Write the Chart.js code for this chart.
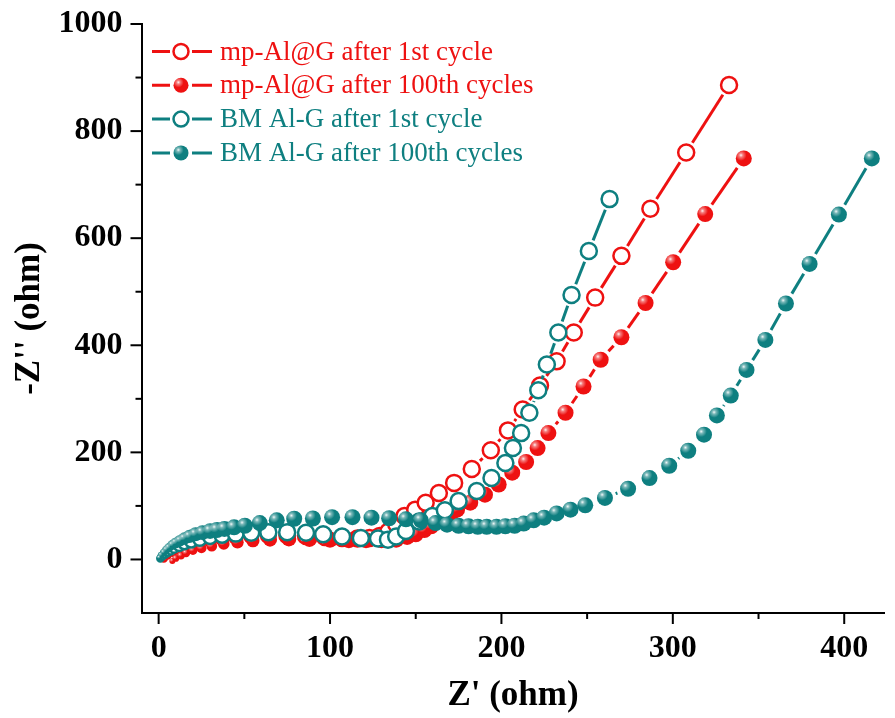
<!DOCTYPE html>
<html lang="en">
<head>
    <meta charset="UTF-8">
    <title>Nyquist plot - mp-Al@G vs BM Al-G</title>
    <script src="https://cdn.jsdelivr.net/npm/chart.js"></script>
    <style>
        html, body { margin: 0; padding: 0; background: #fff; }
        #wrap { width: 895px; height: 718px; }
    </style>
</head>
<body>
<div id="wrap"><canvas id="nyquist" width="895" height="718"></canvas></div>
<script>
    // series labels
    const seriesNames = [
        'mp-Al@G after 1st cycle',
        'mp-Al@G after 100th cycles',
        'BM Al-G after 1st cycle',
        'BM Al-G after 100th cycles'
    ];

    // mp-Al@G after 1st cycle (open red)
    const mp1X = [3, 5, 8, 11, 15, 19, 24, 30, 37, 45, 54, 64, 75, 86, 97, 107, 116, 123, 129, 134, 138.6, 143.4, 149.7, 155.8, 163.5, 172.4, 182.7, 193.8, 203.8, 212.4, 222.5, 232.2, 242.2, 254.7, 270, 286.9, 307.8, 332.8];
    const mp1Y = [2, 8, 14, 19, 24, 28, 32, 36, 39, 42, 44, 45, 45, 44, 42, 40, 39, 40, 44, 52, 66, 81, 93, 106, 124, 143, 169, 204, 241, 280, 325, 370, 424, 489, 567, 655, 760, 886];

    // mp-Al@G after 100th cycles (filled red)
    const mp100X = [8, 10, 13, 16, 20, 25, 31, 38, 46, 55, 65, 76, 88, 100, 111, 121, 130, 138.6, 145, 150, 155, 159, 164.5, 170.2, 174.1, 181.8, 190.4, 198.4, 206.3, 214.4, 221.1, 227.4, 237.4, 247.9, 257.9, 270, 284.1, 300.2, 318.9, 341.4];
    const mp100Y = [-3, 2, 7, 12, 17, 21, 25, 29, 32, 35, 37, 38, 38, 37, 36, 36, 36, 37, 42, 47, 55, 62, 75, 84, 93, 106, 121, 140, 162, 182, 208, 236, 274, 323, 373, 415, 479, 555, 645, 749];

    // BM Al-G after 1st cycle (open teal)
    const bm1X = [1, 2, 3.5, 5, 7, 9, 12, 15, 19, 24, 30, 37, 45, 54, 64, 75, 86, 96, 107, 118, 128, 133.8, 138.6, 144.3, 152, 159.7, 167, 175, 185.6, 194.2, 202.3, 206.7, 211.5, 216.3, 221.5, 226.5, 233.2, 240.9, 251, 263.1];
    const bm1Y = [2, 6, 10, 14, 18, 22, 26, 30, 34, 38, 42, 45, 48, 50, 51, 51, 50, 47, 43, 40, 39, 37, 43, 53, 71, 81, 92, 109, 128, 152, 180, 208, 236, 274, 316, 364, 424, 494, 576, 673];

    // BM Al-G after 100th cycles (filled teal)
    const bm100X = [0.5, 1.5, 3, 4.5, 6, 8, 10, 12.5, 15, 18, 21.5, 25.5, 30, 34, 38.4, 44, 50.3, 59, 68.9, 79.1, 90, 101.2, 113.1, 124.2, 134.5, 144.3, 153, 161.6, 168.3, 175, 180.8, 186.2, 191.4, 197.1, 202.3, 207.7, 213, 218.8, 224.9, 232.2, 240.3, 248.9, 260.4, 273.9, 286.4, 297.9, 309, 318.2, 325.7, 333.8, 343, 354, 366, 379.8, 396.9, 416.1];
    const bm100Y = [3, 8, 13, 18, 22, 27, 31, 35, 39, 43, 47, 50, 53, 55, 57, 60, 63, 68, 73, 76, 76.5, 79, 79, 78, 77, 75, 73, 68, 65, 63, 62, 61, 61, 61, 62, 63, 67, 73, 78, 86, 93, 101, 115, 132, 152, 175, 203, 233, 269, 306, 354, 410, 478, 552, 644, 749];

    // axis ticks
    const xMajorTicks = [0, 100, 200, 300, 400];
    const xMinorTicks = [50, 150, 250, 350];
    const yMajorTicks = [0, 200, 400, 600, 800, 1000];
    const yMinorTicks = [100, 300, 500, 700, 900];

    const RED = '#ee1111';
    const TEAL = '#0e7f80';
    const FONT = "'Liberation Serif', 'Times New Roman', serif";
    const LINE_GAP = 3.5; // space left between a connecting line and a marker

    function toPoints(xs, ys) {
        return xs.map((x, i) => ({ x: x, y: ys[i] }));
    }

    // markers are small near the origin and grow along the curve
    function markerRadius(ctx) {
        return Math.min(8, 3 + ctx.dataIndex * 0.4);
    }

    function shadeSphere(ctx, x, y, r) {
        const g = ctx.createRadialGradient(x - r * 0.35, y - r * 0.4, 0, x - r * 0.35, y - r * 0.4, r * 0.7);
        g.addColorStop(0, 'rgba(255,255,255,0.95)');
        g.addColorStop(0.35, 'rgba(255,255,255,0.45)');
        g.addColorStop(1, 'rgba(255,255,255,0)');
        ctx.fillStyle = g;
        ctx.beginPath();
        ctx.arc(x, y, r, 0, Math.PI * 2);
        ctx.fill();
    }

    function drawMarker(ctx, x, y, r, color, filled) {
        ctx.beginPath();
        ctx.arc(x, y, r, 0, Math.PI * 2);
        if (filled) {
            ctx.fillStyle = color;
            ctx.fill();
            shadeSphere(ctx, x, y, r);
        } else {
            ctx.fillStyle = '#fff';
            ctx.fill();
            ctx.lineWidth = 2.5;
            ctx.strokeStyle = color;
            ctx.stroke();
        }
    }

    // connecting lines with a small gap at each marker (Origin "line + symbol" look)
    // and a glossy highlight on the filled markers
    const linkPlugin = {
        id: 'gappedLines',
        beforeDatasetDraw(chart, args) {
            const ds = chart.data.datasets[args.index];
            const pts = args.meta.data;
            const ctx = chart.ctx;
            ctx.save();
            ctx.strokeStyle = ds.borderColor;
            ctx.lineWidth = 3;
            for (let i = 1; i < pts.length; i++) {
                const a = pts[i - 1], b = pts[i];
                const dx = b.x - a.x, dy = b.y - a.y;
                const d = Math.hypot(dx, dy);
                const ga = a.options.radius + LINE_GAP;
                const gb = b.options.radius + LINE_GAP;
                if (d <= ga + gb + 1) continue;
                const ux = dx / d, uy = dy / d;
                ctx.beginPath();
                ctx.moveTo(a.x + ux * ga, a.y + uy * ga);
                ctx.lineTo(b.x - ux * gb, b.y - uy * gb);
                ctx.stroke();
            }
            ctx.restore();
        },
        afterDatasetDraw(chart, args) {
            const ds = chart.data.datasets[args.index];
            if (!ds.sphere) return;
            const ctx = chart.ctx;
            ctx.save();
            args.meta.data.forEach(pt => shadeSphere(ctx, pt.x, pt.y, pt.options.radius));
            ctx.restore();
        }
    };

    // outward tick marks, major longer than minor
    const tickPlugin = {
        id: 'tickMarks',
        afterDraw(chart) {
            const { ctx, chartArea, scales: { x, y } } = chart;
            ctx.save();
            ctx.strokeStyle = '#000';
            ctx.lineWidth = 2;
            const tick = (x1, y1, x2, y2) => { ctx.beginPath(); ctx.moveTo(x1, y1); ctx.lineTo(x2, y2); ctx.stroke(); };
            xMajorTicks.forEach(v => { const p = x.getPixelForValue(v); tick(p, chartArea.bottom, p, chartArea.bottom + 11); });
            xMinorTicks.forEach(v => { const p = x.getPixelForValue(v); tick(p, chartArea.bottom, p, chartArea.bottom + 6); });
            yMajorTicks.forEach(v => { const p = y.getPixelForValue(v); tick(chartArea.left, p, chartArea.left - 11, p); });
            yMinorTicks.forEach(v => { const p = y.getPixelForValue(v); tick(chartArea.left, p, chartArea.left - 6, p); });
            ctx.restore();
        }
    };

    // legend drawn inside the plot, top left
    const legendPlugin = {
        id: 'insideLegend',
        afterDraw(chart) {
            const ctx = chart.ctx;
            ctx.save();
            ctx.font = '27px ' + FONT;
            ctx.textBaseline = 'middle';
            const order = [3, 2, 1, 0]; // dataset index for each legend row
            order.forEach((di, row) => {
                const ds = chart.data.datasets[di];
                const yy = 51.5 + row * 33.8;
                ctx.strokeStyle = ds.borderColor;
                ctx.lineWidth = 3;
                ctx.beginPath();
                ctx.moveTo(152, yy);
                ctx.lineTo(170, yy);
                ctx.moveTo(192, yy);
                ctx.lineTo(212, yy);
                ctx.stroke();
                drawMarker(ctx, 181, yy, 7.5, ds.borderColor, ds.sphere);
                ctx.fillStyle = ds.borderColor;
                ctx.fillText(ds.label, 220, yy + 1);
            });
            ctx.restore();
        }
    };

    function makeSet(name, xs, ys, color, filled, order) {
        return {
            label: name,
            data: toPoints(xs, ys),
            showLine: false,
            borderColor: color,
            borderWidth: 3,
            pointRadius: markerRadius,
            pointHoverRadius: markerRadius,
            pointBackgroundColor: filled ? color : '#fff',
            pointBorderColor: color,
            pointBorderWidth: filled ? 0 : 2.5,
            sphere: filled,
            order: order,
            clip: false
        };
    }

    const tickFont = { family: FONT, size: 32, weight: 'bold' };
    const titleFont = { family: FONT, size: 35, weight: 'bold' };

    const ctx = document.getElementById('nyquist').getContext('2d');
    new Chart(ctx, {
        type: 'scatter',
        data: {
            datasets: [
                makeSet(seriesNames[3], bm100X, bm100Y, TEAL, true, 0),
                makeSet(seriesNames[2], bm1X, bm1Y, TEAL, false, 1),
                makeSet(seriesNames[1], mp100X, mp100Y, RED, true, 2),
                makeSet(seriesNames[0], mp1X, mp1Y, RED, false, 3)
            ]
        },
        options: {
            responsive: false,
            animation: false,
            layout: { padding: { top: 24, right: 0, left: 0, bottom: 0 } },
            plugins: {
                legend: { display: false },
                tooltip: { enabled: false }
            },
            scales: {
                x: {
                    type: 'linear',
                    min: -10,
                    max: 423.5,
                    afterBuildTicks: s => { s.ticks = xMajorTicks.map(v => ({ value: v })); },
                    afterFit: s => { s.height = 105; s.paddingLeft = 0; s.paddingRight = 0; },
                    grid: { display: false, drawTicks: false },
                    border: { display: true, color: '#000', width: 2 },
                    ticks: {
                        padding: 17,
                        color: '#000',
                        font: tickFont,
                        callback: v => String(v)
                    },
                    title: {
                        display: true,
                        text: "Z' (ohm)",
                        color: '#000',
                        font: titleFont,
                        padding: { top: 0, bottom: 1 }
                    }
                },
                y: {
                    type: 'linear',
                    min: -100,
                    max: 1000,
                    afterBuildTicks: s => { s.ticks = yMajorTicks.map(v => ({ value: v })); },
                    afterFit: s => { s.width = 141.5; s.paddingTop = 0; s.paddingBottom = 0; },
                    grid: { display: false, drawTicks: false },
                    border: { display: true, color: '#000', width: 2 },
                    ticks: {
                        padding: 19,
                        color: '#000',
                        font: tickFont,
                        callback: v => String(v)
                    },
                    title: {
                        display: true,
                        text: "-Z'' (ohm)",
                        color: '#000',
                        font: titleFont,
                        padding: { top: 9, bottom: 0 }
                    }
                }
            }
        },
        plugins: [linkPlugin, tickPlugin, legendPlugin]
    });
</script>
</body>
</html>
